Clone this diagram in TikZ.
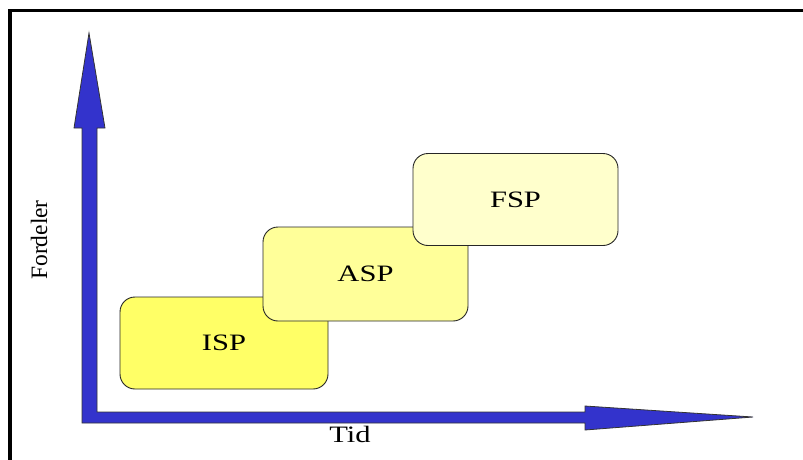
\documentclass[tikz,border=0pt]{standalone}
\usepackage{fontspec}
\setmainfont{Liberation Serif}
\definecolor{axisblue}{RGB}{51,51,204}
\definecolor{ispfill}{RGB}{255,255,102}
\definecolor{aspfill}{RGB}{255,255,153}
\definecolor{fspfill}{RGB}{255,255,204}
\tikzset{
  stage/.style={draw=black!85, line width=0.9pt, rounded corners=15pt,
    inner sep=0pt, font=\fontsize{23.5}{28}\selectfont},
  axislabel/.style={font=\fontsize{23.5}{28}\selectfont, inner sep=0pt}
}
\newcommand{\wide}[1]{\scalebox{1.3}[1]{#1}}
\begin{document}
\begin{tikzpicture}[x=1pt,y=-1pt]
  \useasboundingbox (0,0) rectangle (803,459);
  \fill[white] (0,0) rectangle (803,459);
  % outer frame (top and left edges)
  \draw[line width=3.5pt] (10,470) -- (10,10.5) -- (815,10.5);

  % axes as one blue L-shaped arrow outline
  \coordinate (origin) at (82,423);
  \coordinate (ytip) at (89,33);
  \coordinate (xtip) at (753,417);
  \filldraw[fill=axisblue, draw=black!80, line width=0.8pt, line join=miter]
    (origin) -- (82,128) -- (74,128) -- (ytip) -- (105,128) -- (97,128)
    -- (97,412) -- (585,412) -- (585,406) -- (xtip) -- (585,430)
    -- (585,423) -- cycle;

  % stages
  \node[stage, fill=ispfill, minimum width=208pt, minimum height=92pt]
    (isp) at (224,343) {\wide{ISP}};
  \node[stage, fill=aspfill, minimum width=205pt, minimum height=94pt]
    (asp) at (365.5,274) {\wide{ASP}};
  \node[stage, fill=fspfill, minimum width=205pt, minimum height=92pt]
    (fsp) at (515.5,199.5) {\wide{FSP}};

  % axis labels
  \node[axislabel, anchor=base] (tid) at (350,442) {\wide{Tid}};
  \node[axislabel, anchor=base, rotate=90] (fordeler) at (47,240) {Fordeler};
\end{tikzpicture}
\end{document}
